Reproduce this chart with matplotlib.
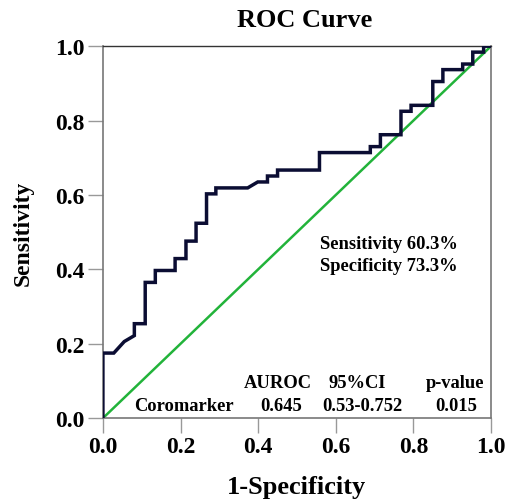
import matplotlib
matplotlib.use('Agg')
import matplotlib.pyplot as plt

# ROC curve vertices (1-specificity, sensitivity)
fpr = [0.0, 0.0, 0.028, 0.055, 0.081, 0.081, 0.109, 0.109, 0.135, 0.135,
       0.186, 0.186, 0.214, 0.214, 0.240, 0.240, 0.267, 0.267, 0.291, 0.291,
       0.373, 0.399, 0.424, 0.424, 0.450, 0.450, 0.558, 0.558, 0.689, 0.689,
       0.715, 0.715, 0.768, 0.768, 0.794, 0.794, 0.850, 0.850, 0.876, 0.876,
       0.927, 0.927, 0.953, 0.953, 0.981, 0.981, 1.0]
tpr = [0.0, 0.175, 0.175, 0.206, 0.222, 0.254, 0.254, 0.365, 0.365, 0.397,
       0.397, 0.429, 0.429, 0.476, 0.476, 0.524, 0.524, 0.603, 0.603, 0.619,
       0.619, 0.635, 0.635, 0.651, 0.651, 0.667, 0.667, 0.714, 0.714, 0.730,
       0.730, 0.762, 0.762, 0.825, 0.825, 0.841, 0.841, 0.905, 0.905, 0.937,
       0.937, 0.952, 0.952, 0.984, 0.984, 1.0, 1.0]

ref_line = [0.0, 1.0]
ticks = [0.0, 0.2, 0.4, 0.6, 0.8, 1.0]

marker_name = 'Coromarker'
auroc = '0.645'
ci95 = '0.53-0.752'
p_value = '0.015'
sens_text = 'Sensitivity 60.3%'
spec_text = 'Specificity 73.3%'

plt.rcParams['font.family'] = ['Liberation Serif', 'DejaVu Serif']
plt.rcParams['font.weight'] = 'bold'

fig = plt.figure(figsize=(5.12, 5.02), dpi=100)
ax = fig.add_axes([0.201, 0.165, 0.758, 0.741])

ax.plot(ref_line, ref_line, color='#22b33a', lw=1.8, zorder=2)
ax.plot(fpr, tpr, color='#0b0d33', lw=2.5, zorder=3, solid_joinstyle='miter')

ax.set_xlim(0, 1)
ax.set_ylim(0, 1)
ax.set_xticks(ticks)
ax.set_yticks(ticks)
ax.set_xticklabels([f'{t:.1f}' for t in ticks], fontsize=17, fontweight='bold')
ax.set_yticklabels([f'{t:.1f}' for t in ticks], fontsize=17, fontweight='bold')
ax.tick_params(direction='out', length=11, width=1, color='#999999', pad=2)

for side in ['left', 'bottom', 'right']:
    ax.spines[side].set_color('#777777')
    ax.spines[side].set_linewidth(1.2)
ax.spines['top'].set_color('#333333')
ax.spines['top'].set_linewidth(1.0)

ax.set_xlabel('1-Specificity', fontsize=19, fontweight='bold', va='center')
ax.set_ylabel('Sensitivity', fontsize=17, fontweight='bold', va='center')
ax.xaxis.set_label_coords(0.5, -0.183)
ax.yaxis.set_label_coords(-0.206, 0.5)
fig.text(0.594, 0.960, 'ROC Curve', ha='center', va='center', fontsize=19, fontweight='bold')

# annotations
fs = 13.3
ax.text(0.559, 0.470, sens_text, ha='left', va='center', fontsize=fs, fontweight='bold')
ax.text(0.559, 0.411, spec_text, ha='left', va='center', fontsize=fs, fontweight='bold')

ax.text(0.451, 0.097, 'AUROC', ha='center', va='center', fontsize=fs, fontweight='bold')
ax.text(0.655, 0.097, '95%CI', ha='center', va='center', fontsize=fs, fontweight='bold')
ax.text(0.907, 0.097, 'p-value', ha='center', va='center', fontsize=fs, fontweight='bold')
ax.text(0.209, 0.035, marker_name, ha='center', va='center', fontsize=fs, fontweight='bold')
ax.text(0.459, 0.035, auroc, ha='center', va='center', fontsize=fs, fontweight='bold')
ax.text(0.668, 0.035, ci95, ha='center', va='center', fontsize=fs, fontweight='bold')
ax.text(0.910, 0.035, p_value, ha='center', va='center', fontsize=fs, fontweight='bold')

plt.savefig('out.png', dpi=100)
